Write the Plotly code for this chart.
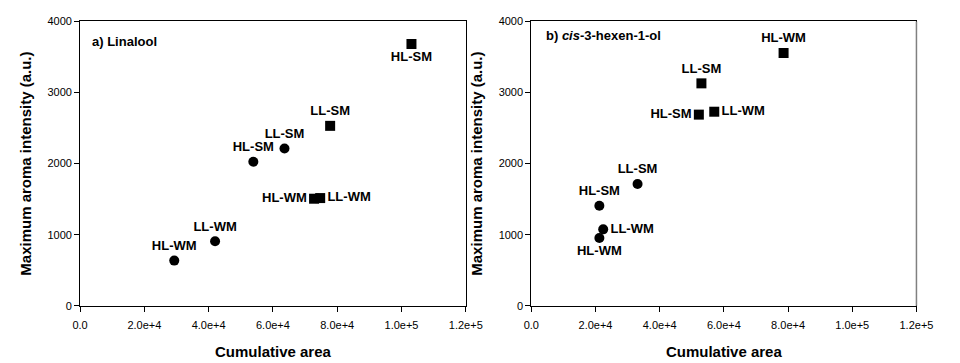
import plotly.graph_objects as go
from plotly.subplots import make_subplots

FONT = "Arial, Liberation Sans, sans-serif"

# Panel a) Linalool
lin_circle_labels = ["HL-WM", "LL-WM", "HL-SM", "LL-SM"]
lin_circle_area = [29300, 42000, 53900, 63600]
lin_circle_intensity = [635, 907, 2027, 2213]

lin_square_labels = ["HL-WM", "LL-WM", "LL-SM", "HL-SM"]
lin_square_area = [72800, 74700, 77800, 103100]
lin_square_intensity = [1506, 1515, 2531, 3683]

# Panel b) cis-3-hexen-1-ol
hex_circle_labels = ["HL-WM", "LL-WM", "HL-SM", "LL-SM"]
hex_circle_area = [21200, 22400, 21200, 33100]
hex_circle_intensity = [952, 1075, 1406, 1714]

hex_square_labels = ["HL-SM", "LL-WM", "LL-SM", "HL-WM"]
hex_square_area = [52200, 57000, 53000, 78600]
hex_square_intensity = [2689, 2730, 3129, 3556]

x_tickvals = [0, 20000, 40000, 60000, 80000, 100000, 120000]
x_ticktext = ["0.0", "2.0e+4", "4.0e+4", "6.0e+4", "8.0e+4", "1.0e+5", "1.2e+5"]
y_tickvals = [0, 1000, 2000, 3000, 4000]

# label placement for each point
lin_circle_pos = ["top center", "top center", "top center", "top center"]
lin_square_pos = ["middle left", "middle right", "top center", "bottom center"]
hex_circle_pos = ["bottom center", "middle right", "top center", "top center"]
hex_square_pos = ["middle left", "middle right", "top center", "top center"]

fig = make_subplots(rows=1, cols=2)

label_font = dict(family=FONT, size=13, color="black", weight="bold")


def add_series(x, y, labels, pos, symbol, col):
    fig.add_trace(
        go.Scatter(
            x=x, y=y, text=labels, mode="markers+text",
            textposition=pos, textfont=label_font,
            marker=dict(symbol=symbol, size=10, color="black", line=dict(width=0)),
            showlegend=False, cliponaxis=False,
        ),
        row=1, col=col,
    )


add_series(lin_circle_area, lin_circle_intensity, lin_circle_labels, lin_circle_pos, "circle", 1)
add_series(lin_square_area, lin_square_intensity, lin_square_labels, lin_square_pos, "square", 1)
add_series(hex_circle_area, hex_circle_intensity, hex_circle_labels, hex_circle_pos, "circle", 2)
add_series(hex_square_area, hex_square_intensity, hex_square_labels, hex_square_pos, "square", 2)

axis_common = dict(
    showgrid=False, zeroline=False, showline=True, linecolor="black", linewidth=1,
    mirror=True, ticks="outside", ticklen=5, tickcolor="black",
    tickfont=dict(family=FONT, size=11, color="black"),
)
xaxis_style = dict(
    axis_common, range=[0, 120000], tickvals=x_tickvals, ticktext=x_ticktext,
    ticklabelstandoff=4,
    title=dict(text="Cumulative area", font=dict(family=FONT, size=15, color="black", weight="bold"),
               standoff=16),
)
yaxis_style = dict(
    axis_common, range=[0, 4000], tickvals=y_tickvals,
    title=dict(text="Maximum aroma intensity (a.u.)",
               font=dict(family=FONT, size=15, color="black", weight="bold"), standoff=12),
)

fig.update_layout(
    width=960, height=363,
    margin=dict(l=0, r=0, t=0, b=0),
    paper_bgcolor="white", plot_bgcolor="white",
    xaxis=dict(xaxis_style, domain=[0.0771, 0.4896]),
    xaxis2=dict(xaxis_style, domain=[0.5597, 0.9716]),
    yaxis=dict(yaxis_style, domain=[0.146, 0.956]),
    yaxis2=dict(yaxis_style, domain=[0.146, 0.956]),
    annotations=[
        dict(text="a) Linalool", xref="x domain", yref="y domain", x=0.025, y=0.93,
             xanchor="left", yanchor="middle", showarrow=False,
             font=dict(family=FONT, size=13, color="black", weight="bold")),
        dict(text="b) <i>cis</i>-3-hexen-1-ol", xref="x2 domain", yref="y2 domain", x=0.032, y=0.95,
             xanchor="left", yanchor="middle", showarrow=False,
             font=dict(family=FONT, size=13, color="black", weight="bold")),
    ],
    shapes=[
        dict(type="line", xref="x2 domain", yref="y2 domain", x0=1, x1=1, y0=0, y1=1,
             line=dict(color="#808080", width=1.5)),
    ],
)

fig.write_html("out.html")
